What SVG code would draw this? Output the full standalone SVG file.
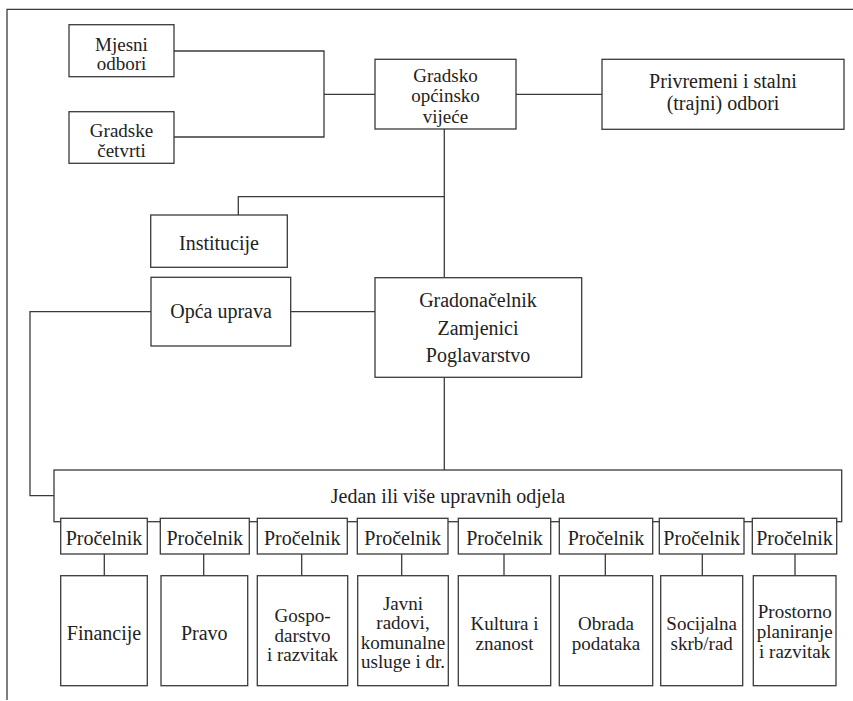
<svg xmlns="http://www.w3.org/2000/svg" width="853" height="701" viewBox="0 0 853 701" font-family="Liberation Serif, DejaVu Serif, serif">
<style>
rect{fill:#fff;stroke:#3a3a3a;stroke-width:1.3}
.c{fill:none;stroke:#3a3a3a;stroke-width:1.3}
text{font-size:20px;fill:#222;text-anchor:middle}
.t{font-size:19px}
</style>
<rect width="853" height="701" style="fill:#fff;stroke:none"/>
<g id="frame"><path class="c" d="M7,700 V9.3 H853"/></g>
<g id="connectors">
<path class="c" d="M174,51 H324 V137 H174"/>
<path class="c" d="M324,94.3 H375"/>
<path class="c" d="M516,94.3 H602"/>
<path class="c" d="M444.3,129 V277.7"/>
<path class="c" d="M444.3,196.7 H238.3 V215"/>
<path class="c" d="M290.7,311.7 H375"/>
<path class="c" d="M151,311.7 H30 V495.7 H54"/>
<path class="c" d="M444.3,377.3 V470"/>
<path class="c" d="M104.3,554 V575.7 M203.7,554 V575.7 M301.7,554 V575.7 M401.7,554 V575.7 M504,554 V575.7 M605.3,554 V575.7 M702.3,554 V575.7 M795,554 V575.7"/>
</g>
<g id="mjesni"><rect x="69" y="24.7" width="105" height="52"/><text class="t" x="121.5" y="50.5">Mjesni</text><text class="t" x="121.5" y="70">odbori</text></g>
<g id="gradske"><rect x="69" y="111.7" width="105" height="51.6"/><text class="t" x="121.5" y="137">Gradske</text><text class="t" x="121.5" y="157">četvrti</text></g>
<g id="vijece"><rect x="375" y="59.3" width="141" height="69.7"/><text class="t" x="445.5" y="81.5">Gradsko</text><text class="t" x="445.5" y="102">općinsko</text><text class="t" x="445.5" y="122.5">vijeće</text></g>
<g id="odbori"><rect x="602" y="59.3" width="242" height="70"/><text x="723" y="88.3">Privremeni i stalni</text><text x="723" y="110">(trajni) odbori</text></g>
<g id="institucije"><rect x="150.7" y="215" width="136.6" height="52.3"/><text x="219" y="250">Institucije</text></g>
<g id="opca"><rect x="151" y="277.3" width="139.7" height="68.7"/><text x="221" y="318.3">Opća uprava</text></g>
<g id="gradonacelnik"><rect x="375" y="277.7" width="206.7" height="99.6"/><text x="478" y="306.7">Gradonačelnik</text><text x="478" y="335">Zamjenici</text><text x="478" y="361.7">Poglavarstvo</text></g>
<g id="odjeli"><rect x="54" y="470" width="787.7" height="51.7"/><text x="448" y="503.3">Jedan ili više upravnih odjela</text></g>
<g id="p1"><rect x="60.7" y="518.3" width="86.6" height="35.7"/><text x="104" y="545">Pročelnik</text></g>
<g id="p2"><rect x="160.3" y="518.3" width="89" height="35.7"/><text x="204.8" y="545">Pročelnik</text></g>
<g id="p3"><rect x="257.3" y="518.3" width="90" height="35.7"/><text x="302.3" y="545">Pročelnik</text></g>
<g id="p4"><rect x="357.3" y="518.3" width="90.7" height="35.7"/><text x="402.7" y="545">Pročelnik</text></g>
<g id="p5"><rect x="458.3" y="518.3" width="92.4" height="35.7"/><text x="504.5" y="545">Pročelnik</text></g>
<g id="p6"><rect x="559.3" y="518.3" width="93.4" height="35.7"/><text x="606" y="545">Pročelnik</text></g>
<g id="p7"><rect x="659.3" y="518.3" width="84.7" height="35.7"/><text x="701.7" y="545">Pročelnik</text></g>
<g id="p8"><rect x="752.3" y="518.3" width="84.4" height="35.7"/><text x="794.5" y="545">Pročelnik</text></g>
<g id="d1"><rect x="60.7" y="575.7" width="86.6" height="110"/><text x="104" y="640">Financije</text></g>
<g id="d2"><rect x="161" y="575.7" width="86.7" height="110"/><text x="204.3" y="640">Pravo</text></g>
<g id="d3"><rect x="257.3" y="575.7" width="90.4" height="110"/><text class="t" x="302.5" y="621.7">Gospo-</text><text class="t" x="302.5" y="641.5">darstvo</text><text class="t" x="302.5" y="660.5">i razvitak</text></g>
<g id="d4"><rect x="357.7" y="575.7" width="90.6" height="110"/><text class="t" x="403" y="610">Javni</text><text class="t" x="403" y="629">radovi,</text><text class="t" x="403" y="648.5">komunalne</text><text class="t" x="403" y="668">usluge i dr.</text></g>
<g id="d5"><rect x="458.3" y="575.7" width="92.4" height="110"/><text class="t" x="504.5" y="630">Kultura i</text><text class="t" x="504.5" y="650">znanost</text></g>
<g id="d6"><rect x="559.3" y="575.7" width="93.4" height="110"/><text class="t" x="606" y="630">Obrada</text><text class="t" x="606" y="650">podataka</text></g>
<g id="d7"><rect x="660.7" y="575.7" width="82" height="110"/><text class="t" x="701.7" y="630">Socijalna</text><text class="t" x="701.7" y="650">skrb/rad</text></g>
<g id="d8"><rect x="753.3" y="575.7" width="82.7" height="110"/><text class="t" x="794.7" y="618">Prostorno</text><text class="t" x="794.7" y="638">planiranje</text><text class="t" x="794.7" y="658">i razvitak</text></g>
</svg>
